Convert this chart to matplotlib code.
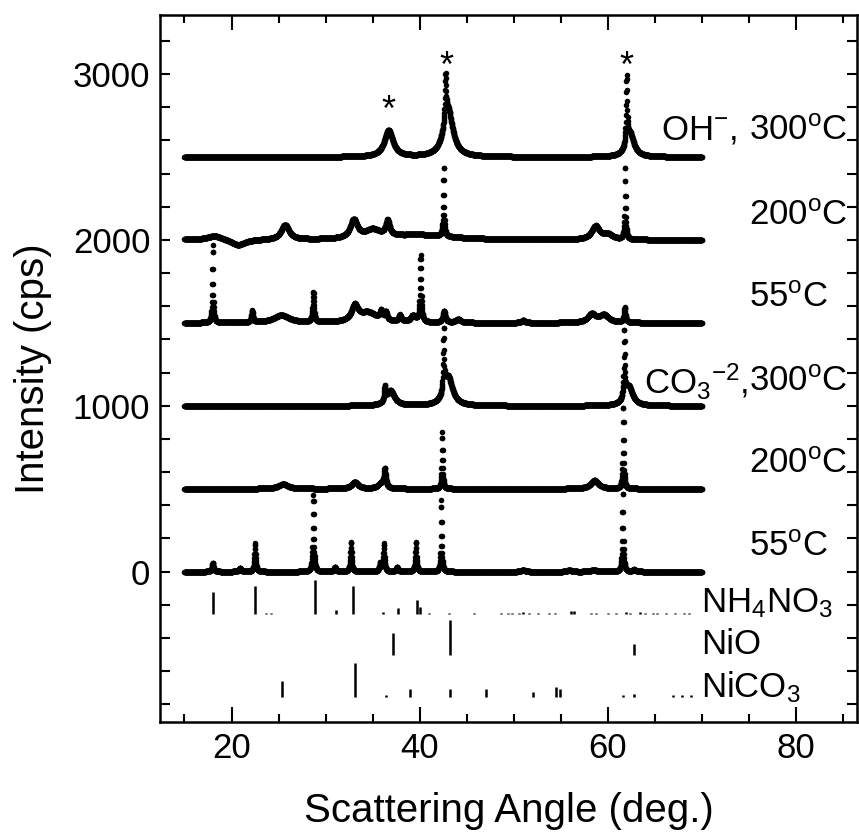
#!/usr/bin/env python3
"""
XRD patterns of the Ni precursors after heating, with reference stick patterns.
"""

import numpy as np
import matplotlib
matplotlib.use("Agg")
import matplotlib.pyplot as plt
from matplotlib.ticker import MultipleLocator

plt.rcParams["font.family"] = ["Liberation Sans", "DejaVu Sans"]
plt.rcParams["mathtext.fontset"] = "custom"
plt.rcParams["mathtext.rm"] = "Liberation Sans"
plt.rcParams["mathtext.default"] = "regular"

OUTPUT_FILE = "out.png"

# scan range / step of the measurement
SCAN_START = 15.0
SCAN_END = 70.0
SCAN_STEP = 0.02

# peaks: (2theta, height in cps, half width)
OH_300 = [(36.7, 160, 0.55), (43.0, 290, 0.6), (42.75, 260, 0.07),
          (62.35, 140, 0.5), (62.0, 400, 0.07)]
OH_200 = [(18.2, 25, 1.0), (20.7, -35, 0.9), (25.7, 90, 0.5), (33.0, 110, 0.45),
          (35.0, 50, 1.0), (36.6, 90, 0.25), (40.0, 30, 4.0), (42.55, 420, 0.06),
          (58.7, 80, 0.5), (60.0, 30, 0.6), (61.85, 440, 0.06)]
OH_55 = [(18.0, 470, 0.06), (22.2, 70, 0.1), (25.3, 45, 1.0), (28.7, 180, 0.09),
         (33.1, 90, 0.4), (34.5, 60, 1.2), (35.9, 50, 0.15), (36.4, 50, 0.15),
         (37.9, 40, 0.15), (39.3, 40, 0.3), (40.1, 400, 0.08), (42.6, 70, 0.15),
         (44.1, 20, 0.3), (51.0, 15, 0.2), (58.3, 50, 0.5), (59.6, 45, 0.6),
         (61.8, 90, 0.1)]
CO3_300 = [(36.3, 90, 0.08), (36.9, 90, 0.5), (42.55, 370, 0.06), (43.0, 180, 0.55),
           (61.75, 400, 0.06), (62.2, 120, 0.5)]
CO3_200 = [(25.5, 28, 0.6), (33.1, 40, 0.4), (35.9, 30, 0.4), (36.3, 110, 0.12),
           (42.4, 340, 0.06), (58.6, 50, 0.5), (61.65, 500, 0.06)]
CO3_55 = [(18.0, 55, 0.1), (20.9, 20, 0.15), (22.5, 170, 0.08), (28.7, 460, 0.07),
          (31.0, 28, 0.12), (32.7, 180, 0.08), (35.8, 50, 0.1), (36.2, 170, 0.08),
          (37.6, 28, 0.12), (39.6, 180, 0.08), (42.3, 430, 0.06), (51.0, 12, 0.2),
          (55.9, 12, 0.2), (58.5, 12, 0.3), (61.6, 520, 0.06), (62.8, 12, 0.2)]

PATTERNS = [OH_300, OH_200, OH_55, CO3_300, CO3_200, CO3_55]
OFFSETS = [2500, 2000, 1500, 1000, 500, 0]
TEMP_LABELS = ["300$^{o}$C", "200$^{o}$C", "55$^{o}$C",
               "300$^{o}$C", "200$^{o}$C", "55$^{o}$C"]
TEMP_Y = [2662, 2150, 1650, 1145, 655, 150]

# reference stick patterns
NH4NO3_POS = [18.0, 22.5, 23.7, 24.2, 28.9, 31.1, 32.9, 36.1, 37.7, 39.7, 40.0,
              41.0, 43.1, 45.8, 48.7, 49.4, 49.8, 50.6, 51.0, 51.6, 52.6, 53.7,
              54.4, 56.1, 56.4, 58.2, 58.7, 60.0, 60.9, 61.9, 62.4, 63.4, 64.0,
              64.8, 65.2, 66.2, 67.2, 68.1, 68.6]
NH4NO3_INT = [130, 167, 8, 8, 207, 26, 167, 10, 34, 86, 40,
              8, 8, 8, 8, 8, 8, 8, 10, 8, 8, 8,
              8, 15, 15, 8, 8, 8, 8, 10, 8, 12, 8,
              8, 8, 8, 8, 8, 8]
NIO_POS = [37.2, 43.2, 62.8]
NIO_INT = [137, 211, 70]
NICO3_POS = [25.4, 33.1, 36.4, 39.0, 43.2, 47.1, 52.0, 54.5, 54.9, 61.6, 62.8,
             66.9, 67.9, 68.9]
NICO3_INT = [94, 205, 10, 48, 48, 48, 28, 60, 45, 10, 20, 10, 10, 10]

STICKS = [(NH4NO3_POS, NH4NO3_INT, -255, "NH$_4$NO$_3$", -189),
          (NIO_POS, NIO_INT, -505, "NiO", -442),
          (NICO3_POS, NICO3_INT, -755, "NiCO$_3$", -695)]

STAR_POS = [36.7, 42.8, 62.0]
STAR_Y = [2715, 2985, 2985]


def profile(two_theta, peaks):
    """Sum of Lorentzian peaks listed for one pattern."""
    y = np.zeros_like(two_theta)
    for center, height, hw in peaks:
        y += height / (1.0 + ((two_theta - center) / hw) ** 2)
    return y


def main():
    fig = plt.figure(figsize=(8.59, 8.36), dpi=100)
    ax = fig.add_axes([0.1863, 0.1364, 0.8114, 0.8457])

    two_theta = np.arange(SCAN_START, SCAN_END + SCAN_STEP / 2, SCAN_STEP)
    for peaks, offset in zip(PATTERNS, OFFSETS):
        ax.plot(two_theta, offset + profile(two_theta, peaks), linestyle="none",
                marker="o", markersize=4.0, markeredgewidth=0, color="black")

    for pos, inten, base, name, ytxt in STICKS:
        ax.vlines(pos, base, [base + v for v in inten], color="black", linewidth=1.8)
        ax.text(69.9, ytxt, name, fontsize=25, ha="left", va="center")

    for xs, ys in zip(STAR_POS, STAR_Y):
        ax.text(xs, ys, "*", fontsize=26, ha="center", va="baseline")

    for label, ytxt in zip(TEMP_LABELS, TEMP_Y):
        ax.text(75.0, ytxt, label, fontsize=25, ha="left", va="center")
    ax.text(73.8, TEMP_Y[0], "OH$^{-}$,", fontsize=25, ha="right", va="center")
    ax.text(75.0, TEMP_Y[3], "CO$_3$$^{-2}$,", fontsize=25, ha="right", va="center")

    ax.set_xlim(12.4, 86.5)
    ax.set_ylim(-906, 3356)
    ax.xaxis.set_major_locator(MultipleLocator(20))
    ax.xaxis.set_minor_locator(MultipleLocator(5))
    ax.yaxis.set_major_locator(MultipleLocator(1000))
    ax.yaxis.set_minor_locator(MultipleLocator(200))

    ax.tick_params(which="both", direction="in", top=True, right=True,
                   width=1.5, labelsize=25, pad=7)
    ax.tick_params(axis="x", which="major", length=11)
    ax.tick_params(axis="x", which="minor", length=5.5)
    ax.tick_params(axis="y", which="both", length=7)
    for spine in ax.spines.values():
        spine.set_linewidth(1.8)

    ax.set_xlabel("Scattering Angle (deg.)", fontsize=29, labelpad=20)
    ax.set_ylabel("Intensity (cps)", fontsize=29, labelpad=15)

    fig.savefig(OUTPUT_FILE, dpi=100)
    plt.close(fig)


if __name__ == "__main__":
    main()
